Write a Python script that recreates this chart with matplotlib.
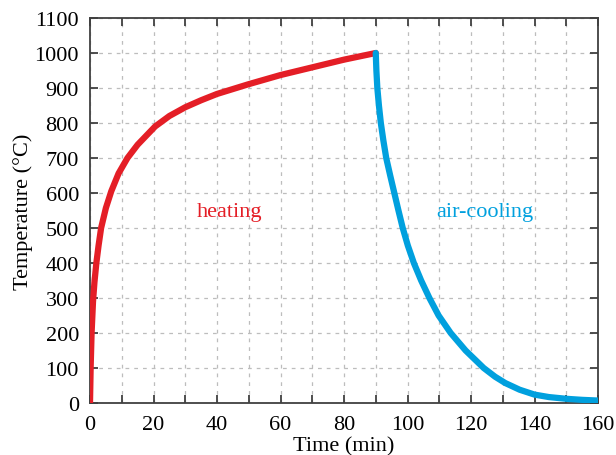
import matplotlib
matplotlib.use("Agg")
import matplotlib.pyplot as plt
from matplotlib.ticker import MultipleLocator

plt.rcParams['font.family'] = ['Liberation Serif', 'DejaVu Serif']

heat_t = [0, 0.2, 0.5, 0.95, 1.4, 2.0, 2.7, 3.5, 5.0, 6.7, 9.0, 11.8, 15, 20.5, 25, 30, 35, 40, 50, 60, 70, 80, 90]
heat_T = [0, 100, 200, 290, 345, 400, 450, 500, 557, 605, 656, 700, 738, 790, 820, 845, 865, 883, 911, 937, 959, 981, 1000]

cool_t = [90, 90.2, 90.5, 91.0, 91.6, 92.4, 93.3, 94.55, 95.85, 97.15, 98.5, 100.1, 102, 104.3, 106.9, 109.8, 113.6, 118.3, 124, 127.6, 130.8, 135.3, 140, 144.5, 150, 155, 160]
cool_T = [1000, 950, 900, 850, 800, 750, 700, 650, 600, 550, 500, 450, 400, 350, 300, 250, 200, 150, 100, 75, 57, 38, 24, 17, 12, 9, 7]

x_ticks = [0, 20, 40, 60, 80, 100, 120, 140, 160]
y_ticks = [0, 100, 200, 300, 400, 500, 600, 700, 800, 900, 1000, 1100]

fig = plt.figure(figsize=(6.16, 4.56), dpi=100)
ax = fig.add_axes([90/616, 1-404/456, (598-90)/616, (404-19)/456])

ax.plot(heat_t, heat_T, color='#E41E26', lw=4.5, solid_capstyle='round', solid_joinstyle='round', zorder=3)
ax.plot(cool_t, cool_T, color='#00A0DE', lw=4.5, solid_capstyle='round', solid_joinstyle='round', zorder=3)

ax.set_xlim(0, 160)
ax.set_ylim(0, 1100)
ax.set_xticks(x_ticks)
ax.set_yticks(y_ticks)
ax.xaxis.set_minor_locator(MultipleLocator(10))

ax.grid(True, which='both', axis='x', linestyle=(0, (3, 4)), color='#bdbdbd', lw=0.9)
ax.grid(True, which='major', axis='y', linestyle=(0, (3, 4)), color='#bdbdbd', lw=0.9)
ax.set_axisbelow(True)

for s in ax.spines.values():
    s.set_color('#404040')
    s.set_linewidth(1.3)

ax.tick_params(which='both', direction='in', top=True, right=True, length=6, width=1.3,
               color='#404040', labelsize=16)
ax.tick_params(axis='x', which='both', pad=9)
ax.tick_params(axis='y', which='both', pad=8)

ax.set_xlabel('Time (min)', fontsize=16, labelpad=1)
ax.set_ylabel('Temperature (°C)', fontsize=16, labelpad=1)

ax.text(44, 546, 'heating', color='#E41E26', fontsize=16, ha='center', va='center')
ax.text(124.4, 546, 'air-cooling', color='#00A0DE', fontsize=16, ha='center', va='center')

fig.savefig('out.png', dpi=100)
